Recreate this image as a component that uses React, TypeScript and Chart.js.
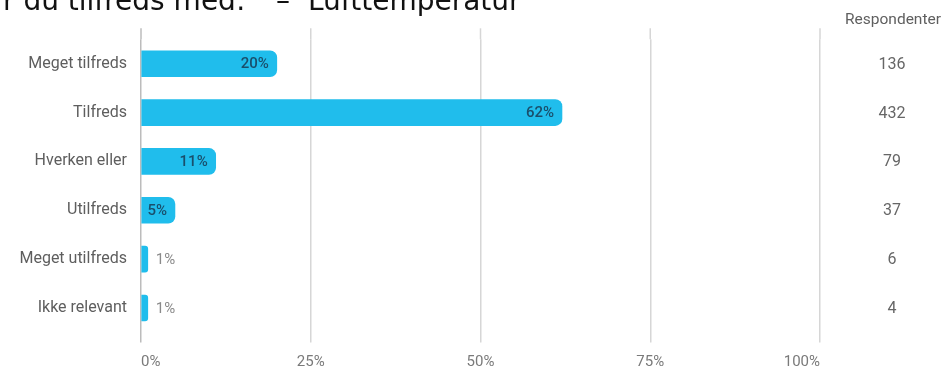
import React, { useEffect, useRef } from 'react';
import { Chart, registerables } from 'chart.js';

Chart.register(...registerables);

const categories = ['Meget tilfreds', 'Tilfreds', 'Hverken eller', 'Utilfreds', 'Meget utilfreds', 'Ikke relevant'];
const percentages = [20, 62, 11, 5, 1, 1];
const respondents = [136, 432, 79, 37, 6, 4];
const xTicks = [0, 25, 50, 75, 100];
const titleLeft = 'r du tilfreds med:';
const titleDash = '–';
const titleRight = 'Lufttemperatur';
const respondentsHeader = 'Respondenter';

const BAR_COLOR = '#20BDEC';

const overlayPlugin = {
  id: 'overlay',
  beforeDatasetsDraw(chart: any) {
    const { ctx, chartArea, scales } = chart;
    const x = scales.x;
    ctx.save();
    x.ticks.forEach((t: any, i: number) => {
      const px = x.getPixelForTick(i);
      ctx.strokeStyle = t.value === 0 ? '#bcbcbc' : '#d6d6d6';
      ctx.lineWidth = 1.5;
      ctx.beginPath();
      ctx.moveTo(px, chartArea.top - 11);
      ctx.lineTo(px, chartArea.top);
      ctx.stroke();
    });
    ctx.restore();
  },
  afterDatasetsDraw(chart: any) {
    const { ctx, scales } = chart;
    const y = scales.y;
    const meta = chart.getDatasetMeta(0);
    ctx.save();
    ctx.textBaseline = 'middle';
    meta.data.forEach((bar: any, i: number) => {
      const v = percentages[i];
      const label = v + '%';
      if (v >= 5) {
        ctx.font = '500 15px Roboto';
        ctx.fillStyle = '#1a4f6c';
        ctx.textAlign = 'right';
        ctx.fillText(label, bar.x - 8, bar.y + 1);
      } else {
        ctx.font = '15px Roboto';
        ctx.fillStyle = '#8a8a8a';
        ctx.textAlign = 'left';
        ctx.fillText(label, bar.x + 8, bar.y + 1);
      }
    });
    // right-hand respondents column
    ctx.textAlign = 'center';
    ctx.font = '15.5px Roboto';
    ctx.fillStyle = '#5f5f5f';
    ctx.fillText(respondentsHeader, 893, 20);
    ctx.font = '16px Roboto';
    ctx.fillStyle = '#666666';
    respondents.forEach((r, i) => {
      ctx.fillText(String(r), 892, y.getPixelForValue(i) + 1);
    });
    // title (cut off at top)
    ctx.textAlign = 'left';
    ctx.textBaseline = 'alphabetic';
    ctx.font = '28px "DejaVu Sans"';
    ctx.fillStyle = '#111111';
    ctx.fillText(titleLeft, 3, 10);
    ctx.fillText(titleDash, 276, 10);
    ctx.fillText(titleRight, 308, 10);
    ctx.restore();
  },
};

export default function App() {
  const ref = useRef<HTMLCanvasElement | null>(null);
  useEffect(() => {
    if (!ref.current) return;
    const chart = new Chart(ref.current, {
      type: 'bar',
      data: {
        labels: categories,
        datasets: [
          {
            data: percentages,
            backgroundColor: BAR_COLOR,
            barThickness: 26,
            borderRadius: 7,
            borderSkipped: 'start',
          },
        ],
      },
      options: {
        indexAxis: 'y',
        responsive: false,
        animation: false,
        layout: { padding: { top: 39.3, right: 128, bottom: 0, left: 0 } },
        plugins: { legend: { display: false }, tooltip: { enabled: false }, title: { display: false } },
        scales: {
          x: {
            min: 0,
            max: 100,
            afterBuildTicks: (scale: any) => {
              scale.ticks = xTicks.map((v) => ({ value: v }));
            },
            afterFit: (scale: any) => {
              scale.height = 35.6;
            },
            border: { display: false },
            grid: {
              color: (c: any) => (c.tick && c.tick.value === 0 ? '#bcbcbc' : '#d6d6d6'),
              lineWidth: 1.5,
              drawTicks: true,
              tickLength: 10,
            },
            ticks: {
              align: 'inner',
              padding: 11,
              color: '#7a7a7a',
              font: { family: 'Roboto', size: 15 },
              callback: (v: any) => v + '%',
            },
          },
          y: {
            afterFit: (scale: any) => {
              scale.width = 141;
            },
            border: { display: false },
            grid: { display: false, drawTicks: false },
            ticks: {
              padding: 14,
              color: '#5e5e5e',
              font: { family: 'Roboto', size: 16 },
            },
          },
        },
      },
      plugins: [overlayPlugin],
    });
    return () => chart.destroy();
  }, []);
  return (
    <div style={{ position: 'fixed', left: 0, top: 0, width: 948, height: 368, background: '#ffffff' }}>
      <canvas ref={ref} width={948} height={368} />
    </div>
  );
}
